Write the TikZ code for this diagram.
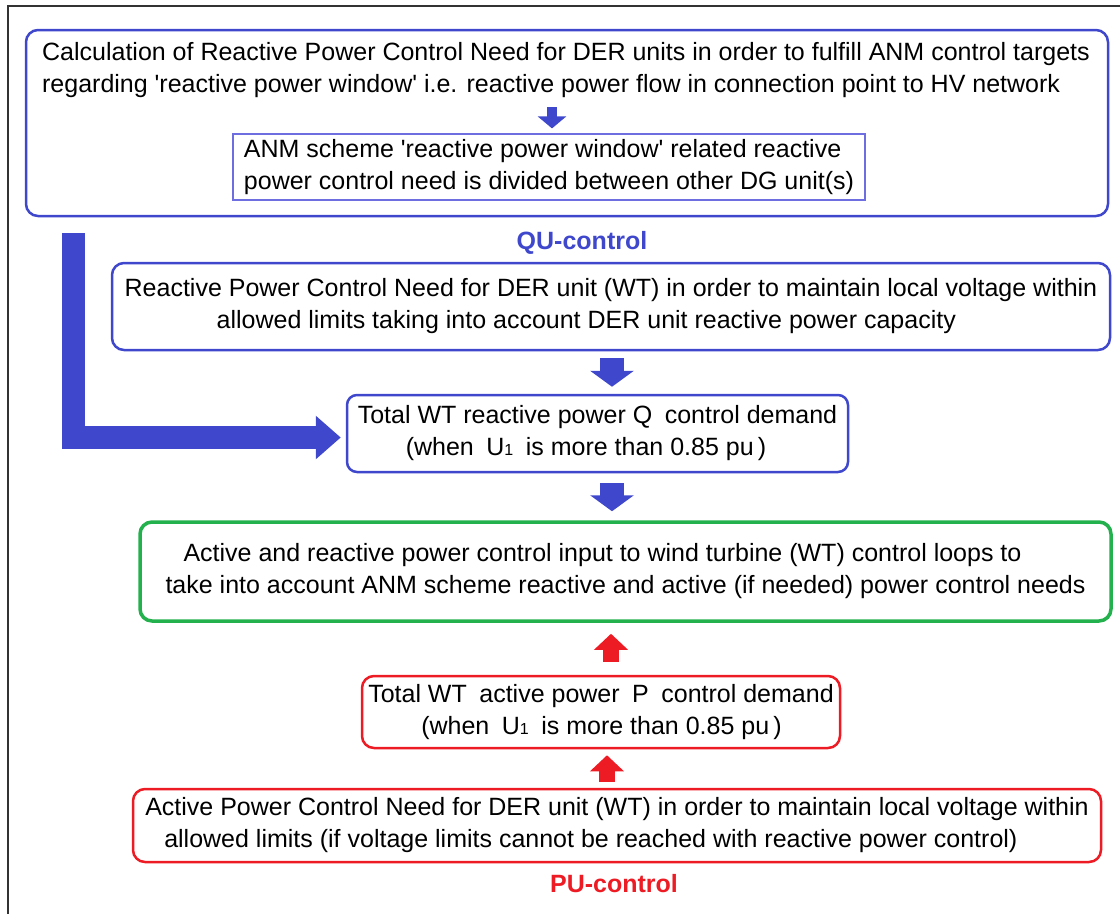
\documentclass[tikz,border=0pt]{standalone}
\usepackage{fontspec}
\setmainfont{Liberation Sans}
\usetikzlibrary{arrows.meta,positioning}
\definecolor{anmblue}{RGB}{63,72,204}
\definecolor{anmlight}{RGB}{110,110,225}
\definecolor{anmgreen}{RGB}{34,177,76}
\definecolor{anmred}{RGB}{237,28,36}
\newcommand{\uone}{U{\fontsize{16}{16}\selectfont 1}}

\begin{document}
\begin{tikzpicture}[x=1pt,y=-1pt,
  font=\fontsize{25}{32}\selectfont,
  box/.style={rounded corners=12pt,line width=2.5pt,align=left,inner sep=0pt},
  bluebox/.style={box,draw=anmblue},
  greenbox/.style={box,draw=anmgreen,line width=3.5pt},
  redbox/.style={box,draw=anmred},
  sharebox/.style={draw=anmlight,line width=1.2pt,align=left,inner sep=0pt},
  tag/.style={font=\fontsize{25}{32}\selectfont\bfseries},
  bluearrow/.style={anmblue,line width=24pt,-{Triangle[length=16pt,width=43pt]}},
  redarrow/.style={anmred,line width=16pt,-{Triangle[length=16pt,width=33pt]}}
]
  \useasboundingbox (0,0) rectangle (1120,914);
  \draw[line width=1.3pt,black!80] (1120,6) -- (8,6) -- (8,914);

  \node[bluebox,minimum width=1082pt,minimum height=186pt] (need) at (567,123) {};
  \node[align=left] (needtxt) at (566,70)
    {Calculation of Reactive Power Control Need for DER units in order to fulfill ANM control targets\\
     regarding \textquotesingle reactive power window\textquotesingle\ i.e. reactive power flow in connection point to HV network};
  \node[sharebox,minimum width=632pt,minimum height=66pt] (share) at (549,167)
    {ANM scheme \textquotesingle reactive power window\textquotesingle\ related reactive\\
     power control need is divided between other DG unit(s)};

  \node[tag,text=anmblue] (qu) at (582,243) {QU-control};
  \node[bluebox,minimum width=998pt,minimum height=87pt] (qneed) at (611,306.5)
    {Reactive Power Control Need for DER unit (WT) in order to maintain local voltage within\\
     \hspace*{92pt}allowed limits taking into account DER unit reactive power capacity};
  \node[bluebox,rounded corners=10pt,minimum width=501pt,minimum height=77pt] (qtotal) at (597.5,433.5)
    {Total WT reactive power Q\enspace control demand\\
     \hspace*{48pt}(when\enspace\uone\enspace is more than 0.85 pu\,)};

  \node[greenbox,minimum width=971pt,minimum height=99pt] (wtin) at (625.5,571.5)
    {\hspace*{18pt}Active and reactive power control input to wind turbine (WT) control loops to\\
     take into account ANM scheme reactive and active (if needed) power control needs};

  \node[redbox,minimum width=478pt,minimum height=72pt] (ptotal) at (601,712)
    {Total WT\enspace active power\enspace P\enspace control demand\\
     \hspace*{53pt}(when\enspace\uone\enspace is more than 0.85 pu\,)};
  \node[redbox,minimum width=968pt,minimum height=73pt] (pneed) at (617,825.5)
    {Active Power Control Need for DER unit (WT) in order to maintain local voltage within\\
     \hspace*{19pt}allowed limits (if voltage limits cannot be reached with reactive power control)};
  \node[tag,text=anmred] (pu) at (614,884) {PU-control};

  \coordinate (spine) at (612,0);
  \coordinate (redup) at (611,0);
  \coordinate (redlow) at (607,0);

  \draw[anmblue,line width=10pt,-{Triangle[length=12pt,width=28pt]}]
    ([xshift=3pt,yshift=26pt]share.north) -- ([xshift=3pt,yshift=5pt]share.north);
  \draw[anmblue,line width=23pt,-{Triangle[length=25pt,width=42pt]}]
    ([xshift=48.5pt,yshift=-16pt]need.south west) |- ([xshift=-5pt,yshift=-4pt]qtotal.west);
  \draw[bluearrow] ([yshift=-7pt]qneed.south -| spine) -- ([yshift=7pt]qtotal.north -| spine);
  \draw[bluearrow] ([yshift=-10pt]qtotal.south -| spine) -- ([yshift=9pt]wtin.north -| spine);
  \draw[redarrow] ([yshift=13pt]ptotal.north -| redup) -- ([yshift=-11pt]wtin.south -| redup);
  \draw[redarrow] ([yshift=6pt]pneed.north -| redlow) -- ([yshift=-6pt]ptotal.south -| redlow);
\end{tikzpicture}
\end{document}
